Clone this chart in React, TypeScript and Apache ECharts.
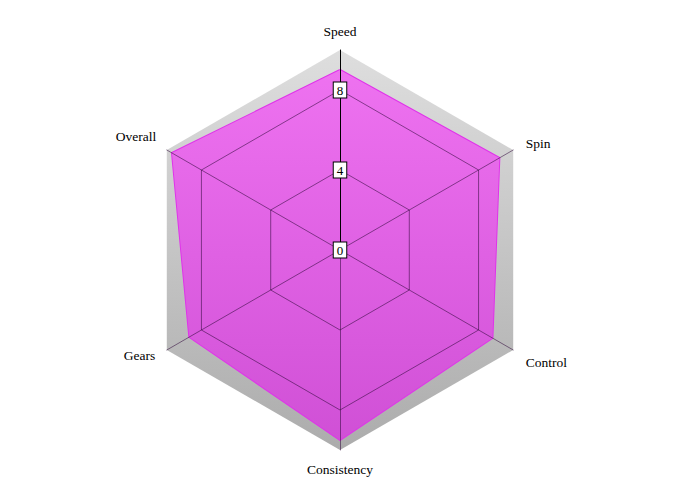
import { useEffect, useRef } from "react";
import * as echarts from "echarts";

// indicators run counter-clockwise from the top
const indicators = ["Speed", "Overall", "Gears", "Consistency", "Control", "Spin"];
const ratings = [9.0, 9.7, 8.7, 9.5, 8.8, 9.2];
const scaleMax = 10;
const labelledTicks = [0, 4, 8];

const FONT = "'Liberation Serif', 'DejaVu Serif', serif";
const GRID = "rgba(50, 10, 60, 0.55)";

// small per-name nudges (padding) so the axis names sit like the original
const namePadding: Record<string, number[]> = {
  Speed: [0, 0, 2, 0],
  Overall: [0, 2, 18, 0],
  Gears: [0, 3, 0, 0],
  Consistency: [2, 0, 0, 0],
  Control: [14, 0, 0, 4],
  Spin: [0, 0, 4, 4]
};

export default function App() {
  const chartRef = useRef<HTMLDivElement | null>(null);

  useEffect(() => {
    document.body.style.margin = "0";
    const container = chartRef.current;
    if (!container) return;
    const chart = echarts.init(container, null, { renderer: "svg" });

    const nameRich: Record<string, object> = {};
    indicators.forEach((name, i) => {
      nameRich["n" + i] = {
        color: "#000",
        fontFamily: FONT,
        fontSize: 13.5,
        padding: namePadding[name]
      };
    });

    chart.setOption({
      animation: false,
      backgroundColor: "#ffffff",
      radar: {
        z: 10,
        center: ["50%", "50%"],
        radius: 200,
        shape: "polygon",
        splitNumber: 5,
        axisNameGap: 10,
        axisName: {
          color: "#000",
          fontFamily: FONT,
          fontSize: 13.5,
          formatter: (name: string) => `{n${indicators.indexOf(name)}|${name}}`,
          rich: nameRich
        },
        indicator: indicators.map((name, i) => ({
          name,
          min: 0,
          max: scaleMax,
          ...(i === 0
            ? {
                axisLine: { lineStyle: { color: "#000", width: 1 } },
                axisLabel: { show: true }
              }
            : { axisLabel: { show: false } })
        })),
        axisLine: { show: true, lineStyle: { color: GRID, width: 1 } },
        axisTick: { show: false },
        axisLabel: {
          show: false,
          showMaxLabel: false,
          margin: 0,
          align: "center",
          verticalAlign: "middle",
          formatter: (v: number) => (labelledTicks.includes(v) ? `{b|${v}}` : ""),
          rich: {
            b: {
              color: "#000",
              fontFamily: FONT,
              fontSize: 13,
              lineHeight: 13,
              backgroundColor: "#fff",
              borderColor: "#000",
              borderWidth: 1,
              padding: [1, 3]
            }
          }
        },
        splitLine: {
          lineStyle: {
            color: ["rgba(0,0,0,0)", "rgba(0,0,0,0)", GRID, "rgba(0,0,0,0)", GRID, "rgba(0,0,0,0)"],
            width: 1
          }
        },
        splitArea: { show: false }
      },
      series: [
        {
          type: "radar",
          z: 1,
          silent: true,
          symbol: "none",
          lineStyle: { width: 0 },
          areaStyle: {
            opacity: 1,
            color: new echarts.graphic.LinearGradient(0, 0, 0, 1, [
              { offset: 0, color: "#dedede" },
              { offset: 1, color: "#acacac" }
            ])
          },
          data: [{ value: indicators.map(() => scaleMax) }]
        },
        {
          type: "radar",
          z: 2,
          symbol: "none",
          lineStyle: { color: "#e032ea", width: 2 },
          areaStyle: {
            opacity: 1,
            color: new echarts.graphic.LinearGradient(0, 0, 0, 1, [
              { offset: 0, color: "#ee72f0" },
              { offset: 1, color: "#d050d6" }
            ])
          },
          data: [{ value: ratings, name: "Rating" }]
        }
      ]
    });

    return () => {
      chart.dispose();
    };
  }, []);

  return <div ref={chartRef} style={{ width: 680, height: 500 }} />;
}
